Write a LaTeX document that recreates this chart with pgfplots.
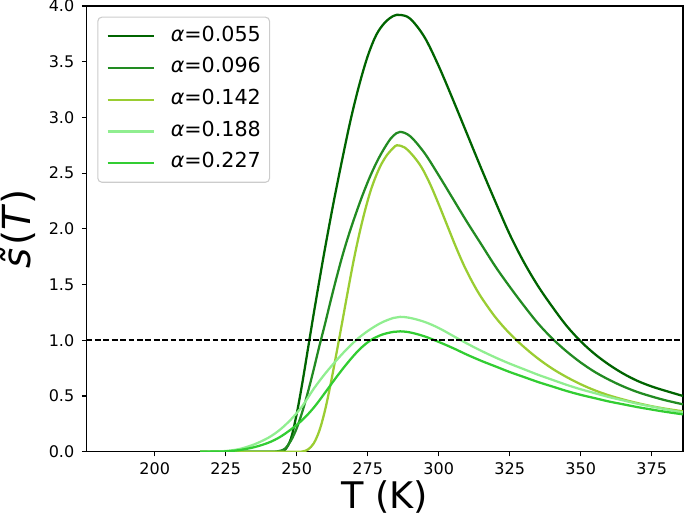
\documentclass[border=0pt]{standalone}
\usepackage{fontspec}
\setmainfont{DejaVu Sans}
\usepackage{pgfplots}
\pgfplotsset{compat=1.18}
\definecolor{cA}{HTML}{006400}
\definecolor{cB}{HTML}{228B22}
\definecolor{cC}{HTML}{9ACD32}
\definecolor{cD}{HTML}{90EE90}
\definecolor{cE}{HTML}{32CD32}
\begin{document}
\begin{tikzpicture}
\begin{axis}[
  name=ax,
  scale only axis, width=447.4pt, height=334.3pt,
  xmin=176, xmax=386, ymin=0, ymax=4,
  xtick={200,225,250,275,300,325,350,375},
  ytick={0,0.5,1,1.5,2,2.5,3,3.5,4},
  /pgf/number format/assume math mode=true,
  yticklabel style={/pgf/number format/fixed, /pgf/number format/fixed zerofill, /pgf/number format/precision=1},
  tick label style={font=\fontsize{12}{14}\selectfont, inner sep=0pt},
  xtick pos=bottom, ytick pos=left,
  tick align=outside, major tick length=3.5pt,
  tick style={black, line width=0.8pt},
  axis line style={black, line width=0.8pt},
  xticklabel shift=4.5pt, yticklabel shift=5.5pt,
  xlabel={T (K)}, ylabel={\textit{\~{s}}(\textit{T})},
  xlabel style={font=\fontsize{27.5}{30}\selectfont, inner sep=0pt, at={(axis description cs:0.5,-0.1015)}, anchor=center},
  ylabel style={font=\fontsize{29}{31}\selectfont, inner sep=0pt, at={(axis description cs:-0.1149,0.5)}, anchor=center},
  legend style={
    at={(axis description cs:0,1)}, anchor=north west,
    xshift=8.1pt, yshift=-8pt,
    draw=black!20, line width=0.8pt, rounded corners=3pt,
    fill=white, fill opacity=0.8, text opacity=1,
    inner xsep=6.5pt, inner ysep=7.1pt,
    font=\fontsize{15.5}{18}\selectfont,
    cells={anchor=west},
    nodes={inner sep=0pt, text height=10.8pt, text depth=3.6pt},
    row sep=9.4pt, column sep=12pt,
  },
  legend image code/.code={\draw[#1,line width=1.7pt] (0pt,0pt) -- (34.5pt,0pt);},
  every axis plot/.append style={line width=1.7pt, smooth, tension=0.55},
]
\addplot[cA] coordinates {
(216,0) (240,0) (244,0.002) (246,0.02) (248,0.12) (250,0.34) (252,0.62) (254,0.93) (256,1.24) (258,1.54) (260,1.83) (263,2.24) (266,2.62) (269,2.98) (272,3.29) (275,3.55) (278,3.74) (281,3.85) (284,3.91) (286.4,3.92)
(290,3.885) (295,3.72) (300,3.46) (305,3.16) (310,2.85) (315,2.54) (320,2.24) (325,1.95) (330,1.70) (335,1.485) (340,1.30) (345,1.13) (350,0.99) (355,0.875) (360,0.78) (365,0.70) (370,0.635) (375,0.585) (380,0.545) (386,0.50)};
\addlegendentry{\textit{α}=0.055}
\addplot[cB] coordinates {
(216,0) (240,0) (243,0.002) (244.5,0.01) (246,0.03) (248,0.10) (250,0.21) (252,0.36) (254,0.54) (256,0.74) (258,0.95) (260,1.15) (262,1.36) (264,1.56) (266,1.75) (268,1.92) (270,2.075) (273,2.29) (276,2.48) (279,2.64) (282,2.77) (284,2.835) (286.4,2.87)
(290,2.83) (295,2.68) (300,2.48) (305,2.27) (310,2.06) (315,1.86) (320,1.66) (325,1.48) (330,1.31) (335,1.15) (340,1.015) (345,0.90) (350,0.80) (355,0.715) (360,0.645) (365,0.585) (370,0.535) (375,0.495) (380,0.46) (386,0.425)};
\addlegendentry{\textit{α}=0.096}
\addplot[cC] coordinates {
(216,0) (249,0) (252,0.002) (254,0.02) (256,0.075) (258,0.19) (260,0.375) (262,0.615) (264,0.883) (266,1.16) (268,1.44) (270,1.71) (272,1.95) (274,2.16) (276,2.34) (278,2.48) (280,2.59) (282,2.67) (284,2.725) (285.3,2.75)
(288,2.73) (291,2.655) (294,2.55) (297,2.40) (300,2.22) (303,2.03) (306,1.84) (309,1.665) (312,1.515) (315,1.385) (320,1.205) (325,1.06) (330,0.94) (335,0.835) (340,0.745) (345,0.67) (350,0.605) (355,0.55) (360,0.505) (365,0.468) (370,0.436) (375,0.408) (380,0.385) (386,0.362)};
\addlegendentry{\textit{α}=0.142}
\addplot[cD] coordinates {
(216,0) (220,0.001) (225,0.006) (230,0.025) (235,0.065) (240,0.125) (244,0.195) (248,0.29) (252,0.41) (256,0.565) (260,0.70) (264,0.82) (268,0.93) (272,1.025) (276,1.10) (280,1.16) (284,1.20) (286.4,1.21)
(290,1.20) (295,1.165) (300,1.11) (305,1.04) (310,0.97) (315,0.905) (320,0.845) (325,0.79) (330,0.74) (335,0.69) (340,0.645) (345,0.60) (350,0.56) (355,0.525) (360,0.49) (365,0.46) (370,0.43) (375,0.405) (380,0.38) (386,0.352)};
\addlegendentry{\textit{α}=0.188}
\addplot[cE] coordinates {
(216,0) (220,0.0005) (225,0.003) (230,0.015) (235,0.04) (240,0.08) (244,0.13) (248,0.20) (252,0.285) (256,0.395) (260,0.53) (264,0.67) (268,0.80) (272,0.915) (276,1.0) (280,1.05) (284,1.075) (286.4,1.08)
(290,1.07) (295,1.035) (300,0.985) (305,0.93) (310,0.87) (315,0.815) (320,0.765) (325,0.715) (330,0.67) (335,0.625) (340,0.585) (345,0.545) (350,0.51) (355,0.48) (360,0.45) (365,0.425) (370,0.40) (375,0.378) (380,0.357) (386,0.335)};
\addlegendentry{\textit{α}=0.227}
\addplot[black, line width=1.2pt, dash pattern=on 4.4pt off 1.9pt, sharp plot, forget plot] coordinates {(176,1) (386,1)};
\end{axis}
\pgfresetboundingbox
\path ([xshift=-64.9pt,yshift=-49.7pt]ax.south west) rectangle ([xshift=1.5pt,yshift=4.5pt]ax.north east);
\end{tikzpicture}
\end{document}
